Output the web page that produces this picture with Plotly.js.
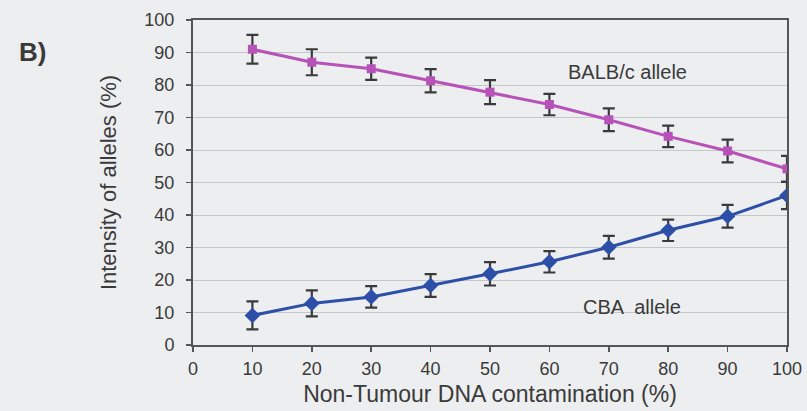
<!DOCTYPE html>
<html>
<head>
<meta charset="utf-8">
<script src="https://cdn.plot.ly/plotly-3.0.1.min.js"></script>
<style>html,body{margin:0;padding:0;background:#eceef0;}</style>
</head>
<body>
<div id="chart" style="width:807px;height:411px;"></div>
<script>
const contamination = [10, 20, 30, 40, 50, 60, 70, 80, 90, 100];
const balbValues = [91, 87, 85, 81.3, 77.8, 74, 69.3, 64.2, 59.7, 54.2];
const balbErrors = [4.4, 4, 3.4, 3.6, 3.7, 3.3, 3.5, 3.3, 3.5, 4];
const cbaValues = [9.1, 12.8, 14.8, 18.3, 21.9, 25.6, 30.1, 35.3, 39.6, 46];
const cbaErrors = [4.3, 4, 3.3, 3.5, 3.6, 3.3, 3.5, 3.3, 3.5, 4.2];
const xTicks = [0, 10, 20, 30, 40, 50, 60, 70, 80, 90, 100];
const yTicks = [0, 10, 20, 30, 40, 50, 60, 70, 80, 90, 100];

const errStyle = {type: 'data', visible: true, color: '#3a3a3a', thickness: 2.2, width: 6};

const traces = [
  {
    x: contamination, y: balbValues, type: 'scatter', mode: 'lines+markers',
    name: 'BALB/c allele',
    line: {color: '#b752b8', width: 3},
    marker: {symbol: 'square', size: 9, color: '#b752b8'},
    error_y: Object.assign({array: balbErrors}, errStyle)
  },
  {
    x: contamination, y: cbaValues, type: 'scatter', mode: 'lines+markers',
    name: 'CBA allele',
    line: {color: '#2d4fa8', width: 3},
    marker: {symbol: 'diamond', size: 12, color: '#2d4fa8'},
    error_y: Object.assign({array: cbaErrors}, errStyle)
  }
];

const font = 'Liberation Sans, Arial, sans-serif';
const txt = '#3a3a3a';
const layout = {
  width: 807, height: 411,
  margin: {l: 193, r: 20, t: 20, b: 66},
  paper_bgcolor: '#eceef0', plot_bgcolor: '#eceef0',
  showlegend: false,
  font: {family: font, color: txt, size: 18},
  xaxis: {
    range: [0, 100], tickvals: xTicks, ticktext: xTicks.map(String),
    showgrid: false, zeroline: false,
    showline: true, linecolor: '#555', linewidth: 2, mirror: true,
    ticks: 'outside', ticklen: 5, tickcolor: '#555', tickwidth: 1.5,
    ticklabelstandoff: 1,
    tickfont: {size: 18, family: font, color: txt},
    title: {text: 'Non-Tumour DNA contamination (%)', font: {size: 23, family: font, color: txt}, standoff: 8}
  },
  yaxis: {
    range: [0, 100], tickvals: yTicks, ticktext: yTicks.map(String),
    showgrid: true, gridcolor: '#c4c6c8', gridwidth: 1, zeroline: false,
    showline: true, linecolor: '#555', linewidth: 2, mirror: true,
    ticks: 'outside', ticklen: 5, tickcolor: '#555', tickwidth: 1.5,
    ticklabelstandoff: 8,
    tickfont: {size: 18, family: font, color: txt},
    title: {text: 'Intensity of alleles (%)', font: {size: 22, family: font, color: txt}, standoff: 22}
  },
  annotations: [
    {text: 'BALB/c allele', x: 73.1, y: 84, xref: 'x', yref: 'y', showarrow: false,
     xanchor: 'center', yanchor: 'middle',
     font: {size: 20, family: font, color: txt}},
    {text: 'CBA  allele', x: 73.9, y: 11.7, xref: 'x', yref: 'y', showarrow: false,
     xanchor: 'center', yanchor: 'middle',
     font: {size: 20, family: font, color: txt}},
    {text: '<b>B)</b>', x: -0.271, y: 0.9015, xref: 'paper', yref: 'paper', showarrow: false,
     xanchor: 'center', yanchor: 'middle',
     font: {size: 26, family: font, color: txt}}
  ]
};

Plotly.newPlot('chart', traces, layout, {displayModeBar: false, staticPlot: true});
</script>
</body>
</html>
